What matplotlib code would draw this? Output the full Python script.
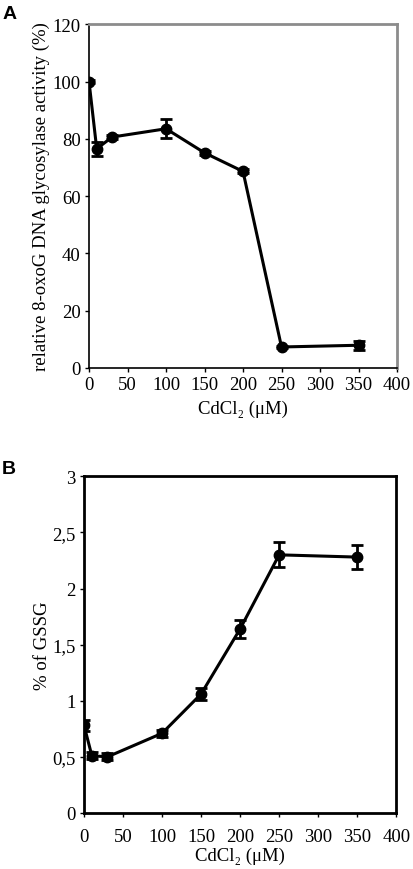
"""Two-panel CdCl2 dose response: glycosylase activity and GSSG."""

import matplotlib
matplotlib.use("Agg")
import matplotlib.pyplot as plt
from matplotlib.ticker import FuncFormatter

plt.rcParams["font.family"] = ["Liberation Serif", "DejaVu Serif"]

# panel A: relative 8-oxoG DNA glycosylase activity (%)
dose_a = [0, 10, 30, 100, 150, 200, 250, 350]
activity = [100, 76.5, 80.6, 83.5, 75.1, 68.6, 7.3, 7.9]
activity_err = [0.5, 2.5, 0.8, 3.3, 0.6, 0.7, 0.4, 1.5]

# panel B: % of GSSG
dose_b = [0, 10, 30, 100, 150, 200, 250, 350]
gssg = [0.78, 0.51, 0.50, 0.71, 1.06, 1.64, 2.30, 2.28]
gssg_err = [0.05, 0.03, 0.03, 0.03, 0.05, 0.08, 0.11, 0.11]

xlabel = "CdCl\u2082 (\u03bcM)"
FS = 13.5


def style_axis(ax, xs, ys, errs, xpad, labelpad):
	ax.errorbar(
		xs, ys, yerr=errs, color="black", linewidth=2.2, marker="o",
		markersize=7.5, capsize=4, capthick=2, elinewidth=2,
	)
	ax.set_xlim(0, 400)
	ax.set_xticks(range(0, 401, 50))
	ax.tick_params(direction="out", length=3, width=1, labelsize=FS, pad=3)
	ax.tick_params(axis="x", pad=xpad)
	ax.set_xlabel(xlabel, fontsize=FS, labelpad=labelpad)


fig = plt.figure(figsize=(4.14, 8.70), dpi=100)

ax_a = fig.add_axes([0.215, 0.576, 0.744, 0.395])
style_axis(ax_a, dose_a, activity, activity_err, xpad=3, labelpad=5)
ax_a.set_ylim(0, 120)
ax_a.set_yticks(range(0, 121, 20))
ax_a.set_ylabel("relative 8-oxoG DNA glycosylase activity (%)", fontsize=FS, labelpad=2)
for side in ("top", "right"):
	ax_a.spines[side].set_color("#8c8c8c")
	ax_a.spines[side].set_linewidth(2)
for side in ("left", "bottom"):
	ax_a.spines[side].set_linewidth(1.2)

ax_b = fig.add_axes([0.203, 0.0644, 0.754, 0.387])
style_axis(ax_b, dose_b, gssg, gssg_err, xpad=8, labelpad=1)
ax_b.set_ylim(0, 3)
ax_b.set_yticks([0, 0.5, 1, 1.5, 2, 2.5, 3])
ax_b.yaxis.set_major_formatter(
	FuncFormatter(lambda v, _: f"{v:g}".replace(".", ","))
)
ax_b.set_ylabel("% of GSSG", fontsize=FS, labelpad=1)
for side in ax_b.spines:
	ax_b.spines[side].set_linewidth(2)

fig.text(0.005, 0.993, "A", fontsize=14, fontweight="bold",
	family="Liberation Sans", ha="left", va="top")
fig.text(0.005, 0.470, "B", fontsize=14, fontweight="bold",
	family="Liberation Sans", ha="left", va="top")

fig.savefig("out.png", dpi=100)
